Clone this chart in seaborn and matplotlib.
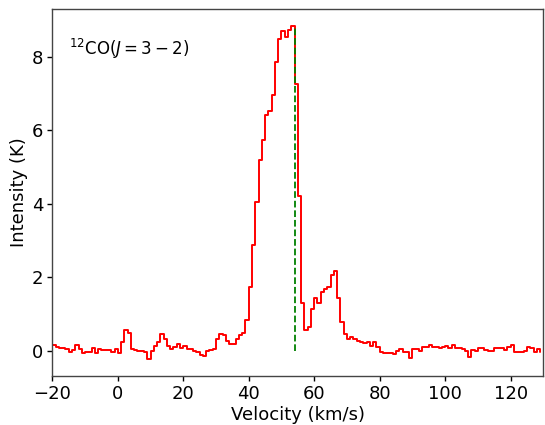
import numpy as np
import pandas as pd
import matplotlib
matplotlib.use("Agg")
import matplotlib.pyplot as plt
import seaborn as sns

# Spectrum: 1 km/s channels starting at -20 km/s
v_start = -20.0
channel_width = 1.0
intensity = [
    0.17, 0.11, 0.09, 0.07, 0.05, -0.02, 0.02, 0.17, 0.05, -0.06,
    -0.02, -0.02, 0.08, -0.06, 0.06, 0.03, 0.03, 0.03, -0.04, 0.04,
    -0.06, 0.25, 0.58, 0.50, 0.05, 0.02, 0.00, 0.00, -0.04, -0.22,
    0.00, 0.14, 0.23, 0.47, 0.33, 0.14, 0.06, 0.10, 0.20, 0.08,
    0.14, 0.04, 0.04, 0.00, -0.02, -0.10, -0.13, 0.00, 0.03, 0.05,
    0.33, 0.46, 0.44, 0.28, 0.20, 0.20, 0.33, 0.44, 0.50, 0.84,
    1.75, 2.87, 4.04, 5.20, 5.72, 6.40, 6.52, 6.96, 7.85, 8.47,
    8.70, 8.54, 8.73, 8.84, 7.25, 4.22, 1.30, 0.57, 0.66, 1.13,
    1.43, 1.30, 1.60, 1.67, 1.75, 2.05, 2.16, 1.44, 0.78, 0.46,
    0.33, 0.39, 0.33, 0.28, 0.25, 0.22, 0.25, 0.13, 0.25, 0.12,
    -0.04, -0.06, -0.06, -0.06, -0.08, 0.00, 0.04, -0.02, -0.02, -0.20,
    0.05, 0.05, -0.01, 0.12, 0.12, 0.16, 0.10, 0.10, 0.08, 0.12,
    0.14, 0.07, 0.16, 0.07, 0.09, 0.05, 0.01, -0.17, 0.03, 0.01,
    0.07, 0.07, 0.03, 0.01, 0.01, 0.07, 0.07, 0.07, 0.03, 0.12,
    0.16, -0.04, -0.02, -0.02, 0.01, 0.10, 0.07, -0.02, 0.05, -0.04,
]
line_velocity = 54.0
line_label = r"$^{12}$CO($J=3-2$)"

velocity = v_start + channel_width * np.arange(len(intensity))
df = pd.DataFrame({"Velocity": velocity, "Intensity": intensity})

sns.set_style("ticks")
plt.rcParams["font.family"] = ["DejaVu Sans"]
plt.rcParams["mathtext.fontset"] = "dejavusans"
plt.rcParams["text.color"] = "black"
plt.rcParams["axes.labelcolor"] = "black"

fig, ax = plt.subplots(figsize=(5.45, 4.25), dpi=100)
fig.subplots_adjust(left=0.096, right=0.997, top=0.979, bottom=0.116)

sns.lineplot(data=df, x="Velocity", y="Intensity", ax=ax, color="red",
             linewidth=1.4, drawstyle="steps-post", estimator=None)
ax.vlines(line_velocity, 0, max(intensity), colors="green",
          linestyles="--", linewidth=1.3)

ax.text(0.033, 0.89, line_label, transform=ax.transAxes, fontsize=12,
        ha="left", va="center")

ax.set_xlim(-20, 130)
ax.set_xlabel("Velocity (km/s)", fontsize=13, labelpad=2)
ax.set_ylabel("Intensity (K)", fontsize=13, labelpad=3)
ax.tick_params(labelsize=13, direction="out", length=3.5, width=1,
               pad=3, colors="black")
for s in ax.spines.values():
    s.set_visible(True)
    s.set_color("#444444")
    s.set_linewidth(1)

fig.savefig("out.png", dpi=100)
